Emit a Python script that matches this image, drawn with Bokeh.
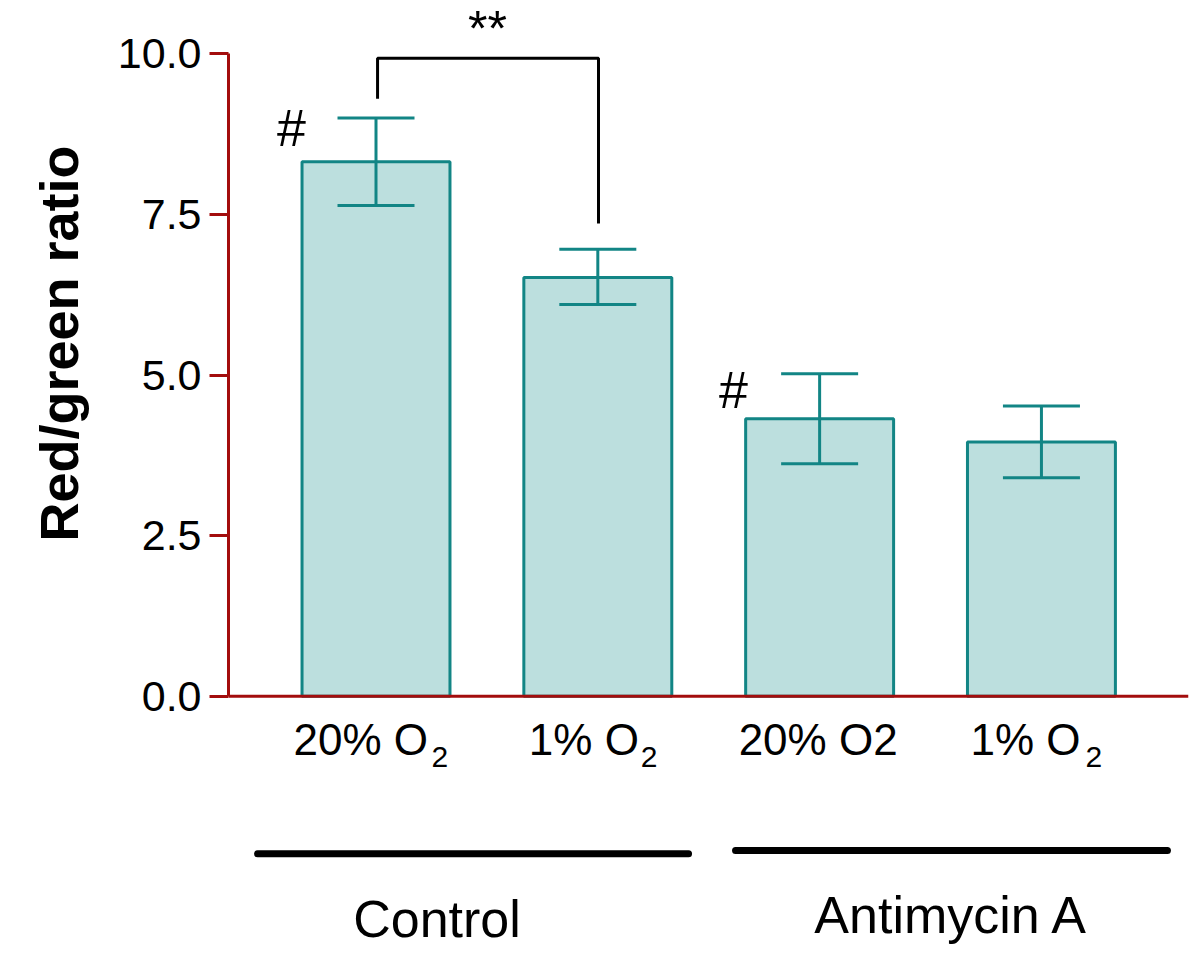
from bokeh.plotting import figure
from bokeh.models import (ColumnDataSource, Whisker, TeeHead, Span, FixedTicker,
                          PrintfTickFormatter, Range1d, Title)
from bokeh.core.properties import value
from bokeh.embed import file_html
from bokeh.resources import INLINE

# ---- data ----
conditions = ["20% O2", "1% O2", "20% O2", "1% O2"]
label_main = ["20% O", "1% O", "20% O2", "1% O"]
label_sub = ["2", "2", "", "2"]
groups = ["Control", "Antimycin A"]
means = [8.32, 6.52, 4.32, 3.96]
upper = [9.00, 6.96, 5.02, 4.52]
lower = [7.64, 6.10, 3.62, 3.40]
y_ticks = [0, 2.5, 5.0, 7.5, 10.0]
y_label = "Red/green ratio"
sig_text = "**"
hash_text = "#"

# ---- style ----
FONT = "Liberation Sans"
RED = "#a30d0d"
TEAL = "#128585"
FILL = "#bcdfde"

xpos = list(range(len(means)))

p = figure(width=1200, height=956, output_backend="svg", toolbar_location=None,
           x_range=Range1d(-0.665, 3.663), y_range=Range1d(-4.050, 10.830),
           x_axis_location=None, y_axis_location="left",
           min_border_left=228, min_border_right=12, min_border_top=0, min_border_bottom=0,
           title=None)
p.outline_line_color = None
p.grid.visible = False
p.background_fill_color = "white"
p.border_fill_color = "white"

src = ColumnDataSource(dict(x=xpos, top=means, upper=upper, lower=lower))

p.vbar(x="x", top="top", bottom=0, width=0.667, source=src,
       fill_color=FILL, line_color=TEAL, line_width=3)

wh = Whisker(source=src, base="x", upper="upper", lower="lower",
             line_color=TEAL, line_width=3, level="overlay",
             upper_head=TeeHead(size=77, line_color=TEAL, line_width=3),
             lower_head=TeeHead(size=77, line_color=TEAL, line_width=3))
p.add_layout(wh)

# x axis line at y = 0
p.add_layout(Span(location=0, dimension="width", line_color=RED, line_width=3))

# y axis
ya = p.yaxis[0]
ya.bounds = (0, 10)
ya.ticker = FixedTicker(ticks=y_ticks)
ya.formatter = PrintfTickFormatter(format="%.1f")
ya.minor_tick_line_color = None
ya.axis_line_color = RED
ya.axis_line_width = 3
ya.major_tick_line_color = RED
ya.major_tick_line_width = 3
ya.major_tick_out = 19
ya.major_tick_in = 0
ya.major_label_standoff = 8
ya.major_label_text_font = FONT
ya.major_label_text_font_size = "43px"
ya.major_label_text_color = "black"

ylab = Title(text=y_label, align="right", vertical_align="bottom", offset=145, standoff=52,
             text_font=FONT, text_font_size="54px", text_font_style="bold",
             text_color="black")
p.add_layout(ylab, "left")

# category labels with subscripts
lab_src = ColumnDataSource(dict(x=xpos, y=[-0.668] * 4, t=label_main,
                                dx=[-82.5, -69, -81, -71]))
p.text(x="x", y="y", text="t", x_offset="dx", source=lab_src,
       text_font=value(FONT), text_font_size="44px", text_color="black",
       text_align="left", text_baseline="alphabetic")
sub_idx = [i for i, s in enumerate(label_sub) if s]
sub_src = ColumnDataSource(dict(x=[xpos[i] for i in sub_idx], y=[-0.943] * len(sub_idx),
                                t=[label_sub[i] for i in sub_idx], dx=[55.5, 43, 44]))
p.text(x="x", y="y", text="t", x_offset="dx", source=sub_src,
       text_font=value(FONT), text_font_size="30px", text_color="black",
       text_align="left", text_baseline="alphabetic")

# group lines and labels
p.segment(x0=[-0.534, 1.621], y0=[-2.45, -2.40], x1=[1.409, 3.568], y1=[-2.45, -2.40],
          line_color="black", line_width=7, line_cap="round")
p.text(x=[0.275, 2.595], y=[-3.47, -3.41], text=groups,
       text_font=value(FONT), text_font_size="52px", text_color="black",
       text_align="center", text_baseline="alphabetic")

# significance bracket
p.line(x=[0.007, 0.007, 1.003, 1.003], y=[9.30, 9.93, 9.93, 7.36],
       line_color="black", line_width=3)
p.text(x=[0.503], y=[10.38], text=[sig_text],
       text_font=value(FONT), text_font_size="50px", text_color="black",
       text_align="center", text_baseline="alphabetic")

# hash marks
p.text(x=[-0.381, 1.612], y=[8.85, 4.77], text=[hash_text, hash_text],
       text_font=value(FONT), text_font_size="52px", text_color="black",
       text_align="center", text_baseline="alphabetic")

open("out.html", "w").write(file_html(p, INLINE))
